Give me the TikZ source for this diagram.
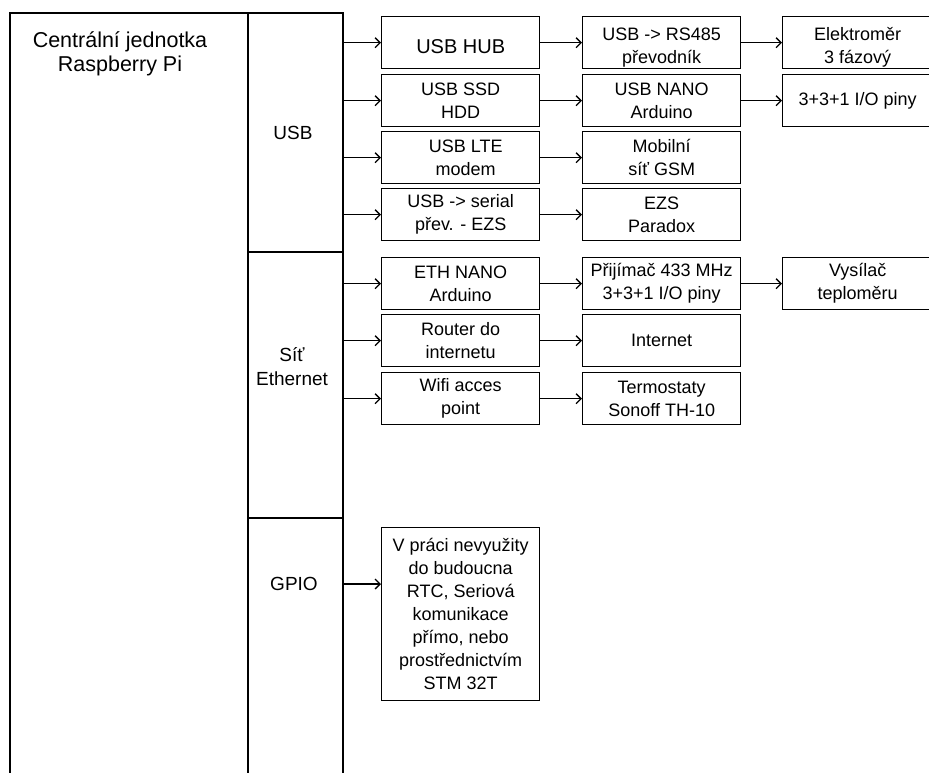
\documentclass[tikz,border=0pt]{standalone}
\usepackage{fontspec}
\setmainfont{Liberation Sans}
\usetikzlibrary{arrows.meta}
\newcommand\lowtxt[2]{\raisebox{-#1}[\height][\depth]{\parbox{150pt}{\centering #2}}}
\begin{document}
\begin{tikzpicture}[x=1pt,y=-1pt,
  box/.style={draw, line width=1.4pt, minimum width=158pt, minimum height=52pt, inner sep=0pt, anchor=north west, align=center, font=\fontsize{18}{23}\selectfont},
  box3/.style={box, minimum width=150pt},
  col/.style={draw, line width=1.7pt, anchor=north west, inner sep=0pt},
  lbl/.style={align=center, font=\fontsize{19}{24}\selectfont},
  arr/.style={line width=1.3pt, -{Straight Barb[length=5pt,width=10pt]}}]
\useasboundingbox (0,0) rectangle (929,773);
\clip (0,0) rectangle (929,773);
% main columns
\node[col, minimum width=238pt, minimum height=790pt] (cpu) at (9,12) {};
\node[col, minimum width=95pt, minimum height=239pt] (usb) at (247,12) {};
\node[col, minimum width=95pt, minimum height=266pt] (eth) at (247,251) {};
\node[col, minimum width=95pt, minimum height=290pt] (gpio) at (247,517) {};
\node[lbl, font=\fontsize{21.5}{24}\selectfont] (title) at (120,54) {Centrální jednotka\\Raspberry Pi};
\node[lbl] (usbl) at (293,133) {USB};
\node[lbl] (ethl) at (292,367) {Síť\\Ethernet};
\node[lbl] (gpiol) at (294,584) {GPIO};
% column 1
\node[box] (hub) at (381,16) {\fontsize{20}{24}\selectfont\lowtxt{4pt}{USB HUB}};
\node[box] (ssd) at (381,74) {USB SSD\\HDD};
\node[box] (lte) at (381,131) {\hspace*{10pt}USB LTE\\\hspace*{10pt}modem};
\node[box] (ser) at (381,188) {USB -> serial\\přev. - EZS};
\node[box] (ethn) at (381,257) {ETH NANO\\Arduino};
\node[box] (rout) at (381,314) {Router do\\internetu};
\node[box] (wifi) at (381,372) {Wifi acces\\point};
\node[box, minimum height=173pt] (gp) at (381,527) {V práci nevyužity\\do budoucna\\RTC, Seriová\\komunikace\\přímo, nebo\\prostřednictvím\\STM 32T};
% column 2
\node[box] (rs) at (582,16) {\lowtxt{5pt}{USB -> RS485\\převodník}};
\node[box] (nano) at (582,74) {USB NANO\\Arduino};
\node[box] (gsm) at (582,131) {Mobilní\\síť GSM};
\node[box] (ezs) at (582,188) {EZS\\Paradox};
\node[box] (prij) at (582,257) {Přijímač 433 MHz\\3+3+1 I/O piny};
\node[box] (inet) at (582,314) {Internet};
\node[box] (term) at (582,372) {Termostaty\\Sonoff TH-10};
% column 3
\node[box3] (elek) at (782,16) {\lowtxt{5pt}{Elektroměr\\3 fázový}};
\node[box3] (pins) at (782,74) {3+3+1 I/O piny};
\node[box3] (vys) at (782,257) {Vysílač\\teploměru};
% connectors
\foreach \b in {hub,ssd,lte,ser} \draw[arr] (usb.east |- \b.west) -- (\b.west);
\foreach \b in {ethn,rout,wifi} \draw[arr] (eth.east |- \b.west) -- (\b.west);
\coordinate (ga) at (342,584);
\draw[arr] (ga) -- (ga -| gp.west);
\draw[arr] (hub) -- (rs);
\draw[arr] (ssd) -- (nano);
\draw[arr] (lte) -- (gsm);
\draw[arr] (ser) -- (ezs);
\draw[arr] (ethn) -- (prij);
\draw[arr] (rout) -- (inet);
\draw[arr] (wifi) -- (term);
\draw[arr] (rs) -- (elek);
\draw[arr] (nano) -- (pins);
\draw[arr] (prij) -- (vys);
\end{tikzpicture}
\end{document}
